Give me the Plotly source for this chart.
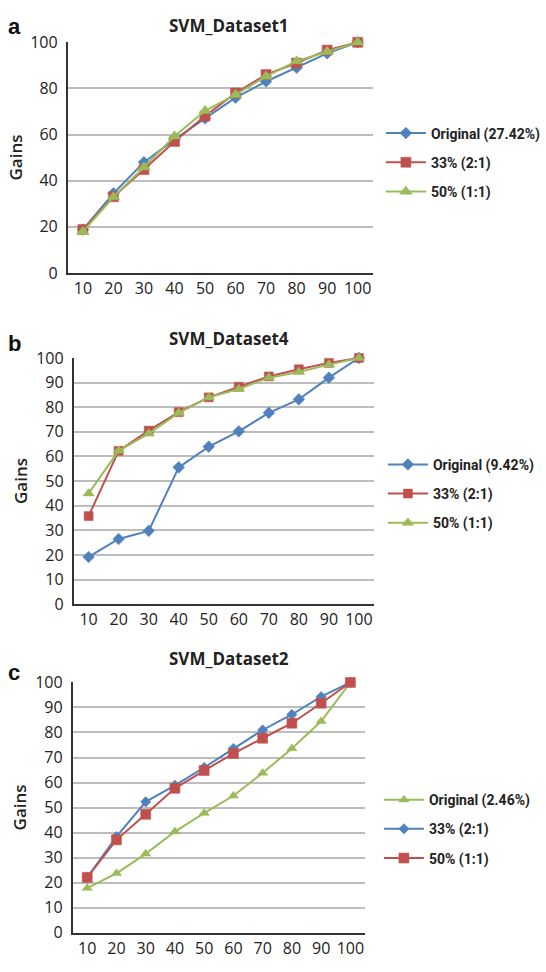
import plotly.graph_objects as go

x_cats = ["10", "20", "30", "40", "50", "60", "70", "80", "90", "100"]

# Panel a: SVM_Dataset1
a_original = [18.8, 34.5, 48, 57.8, 67, 76, 83, 89, 95.2, 100]
a_33 = [18.8, 33, 44.8, 57, 68, 78, 86, 91, 96.6, 100]
a_50 = [17.9, 32.9, 45.8, 59.3, 70.3, 77.3, 85.2, 91.8, 95.9, 100]

# Panel b: SVM_Dataset4
b_original = [19.2, 26.5, 29.8, 55.6, 64, 70.2, 77.7, 83.2, 92, 100]
b_33 = [35.8, 62.3, 70.5, 78, 84, 88.3, 92.5, 95.4, 98, 100]
b_50 = [45, 62.3, 69.3, 77.7, 84, 87.4, 92, 94.3, 97.3, 100]

# Panel c: SVM_Dataset2
c_original = [17.8, 23.7, 31.5, 40.4, 47.8, 54.7, 63.8, 73.6, 84.5, 100]
c_33 = [22, 38.4, 52.3, 58.9, 66, 73.6, 81, 87.2, 94.3, 100]
c_50 = [22.1, 37.1, 47.3, 57.7, 64.8, 71.6, 77.7, 83.7, 91.7, 100]

titles = ["SVM_Dataset1", "SVM_Dataset4", "SVM_Dataset2"]
letters = ["a", "b", "c"]
names_ab = ["Original (27.42%)", "33% (2:1)", "50% (1:1)"]
names_b = ["Original (9.42%)", "33% (2:1)", "50% (1:1)"]
names_c = ["Original (2.46%)", "33% (2:1)", "50% (1:1)"]

BLUE = "#4F81BD"
RED = "#C0504D"
GREEN = "#9BBB59"
FONT = "Open Sans"

fig = go.Figure()

def add(x_ax, y_ax, leg, name, ys, color, symbol, size, group):
    fig.add_trace(go.Scatter(
        x=x_cats, y=ys, name=name, mode="lines+markers",
        xaxis=x_ax, yaxis=y_ax, legend=leg, legendgroup=group,
        line=dict(color=color, width=2),
        marker=dict(color=color, symbol=symbol, size=size,
                    line=dict(color=color, width=0.5)),
        cliponaxis=False,
    ))

# panel a
add("x", "y", "legend", names_ab[0], a_original, BLUE, "diamond", 9, "a1")
add("x", "y", "legend", names_ab[1], a_33, RED, "square", 10, "a2")
add("x", "y", "legend", names_ab[2], a_50, GREEN, "triangle-up", 11, "a3")
# panel b
add("x2", "y2", "legend2", names_b[0], b_original, BLUE, "diamond", 9, "b1")
add("x2", "y2", "legend2", names_b[1], b_33, RED, "square", 9, "b2")
add("x2", "y2", "legend2", names_b[2], b_50, GREEN, "triangle-up", 10, "b3")
# panel c
add("x3", "y3", "legend3", names_c[0], c_original, GREEN, "triangle-up", 9, "c1")
add("x3", "y3", "legend3", names_c[1], c_33, BLUE, "diamond", 8, "c2")
add("x3", "y3", "legend3", names_c[2], c_50, RED, "square", 10, "c3")

W, H = 546, 972
def px(x):
    return x / W
def py(y):
    return 1 - y / H

panels = [
    # left, right, top, bottom, dtick
    (68, 375, 32, 268, 20),
    (74, 376, 355, 607, 10),
    (73, 367, 687, 943, 10),
]

layout = dict(
    width=W, height=H, margin=dict(l=0, r=0, t=0, b=0),
    paper_bgcolor="white", plot_bgcolor="white",
    font=dict(family=FONT, color="#222222"),
)

for i, (l, r, t, b, dt) in enumerate(panels):
    sfx = "" if i == 0 else str(i + 1)
    layout["xaxis" + sfx] = dict(
        domain=[px(l), px(r)], anchor="y" + sfx, type="category",
        range=[-0.5, 9.5], showgrid=False, showline=True,
        linecolor="#333333", linewidth=1.5, ticks="",
        tickfont=dict(size=16, family=FONT, color="#222222"),
        fixedrange=True,
    )
    layout["yaxis" + sfx] = dict(
        domain=[py(b), py(t)], anchor="x" + sfx, range=[0, 100],
        dtick=dt, tick0=0, showgrid=True, gridcolor="#bdbdbd", gridwidth=1.5,
        showline=True, linecolor="#333333", linewidth=1.5, ticks="",
        zeroline=False, ticklabelstandoff=5,
        tickfont=dict(size=16, family=FONT, color="#222222"),
        fixedrange=True,
    )

legend_centers = [155, 494, 837]
legend_x = [383, 385, 381]
for i, (cy, lx) in enumerate(zip(legend_centers, legend_x)):
    key = "legend" if i == 0 else "legend" + str(i + 1)
    layout[key] = dict(
        x=px(lx), y=py(cy), xanchor="left", yanchor="middle",
        bgcolor="rgba(0,0,0,0)", borderwidth=0,
        font=dict(family="Roboto", size=14, color="#222222", weight="bold"),
        traceorder="grouped", tracegroupgap=8, itemwidth=40,
    )

fig.update_layout(**layout)

title_pos = [15, 335, 663]
letter_pos = [16, 340, 677]
gains_pos = [(16, 150), (20, 481), (20, 815)]
for i in range(3):
    fig.add_annotation(text="<b>" + titles[i] + "</b>", x=px(230), y=py(title_pos[i]),
                       xref="paper", yref="paper", showarrow=False,
                       xanchor="center", yanchor="middle",
                       font=dict(family=FONT, size=17, color="#222222"))
    fig.add_annotation(text="<b>" + letters[i] + "</b>", x=px(6), y=py(letter_pos[i]),
                       xref="paper", yref="paper", showarrow=False,
                       xanchor="left", yanchor="middle",
                       font=dict(family="Liberation Sans", size=22, color="#111111"))
    gx, gy = gains_pos[i]
    fig.add_annotation(text="Gains", x=px(gx), y=py(gy),
                       xref="paper", yref="paper", showarrow=False,
                       xanchor="center", yanchor="middle", textangle=-90,
                       font=dict(family=FONT, size=17, color="#222222", weight=600))

fig.write_html("out.html")
